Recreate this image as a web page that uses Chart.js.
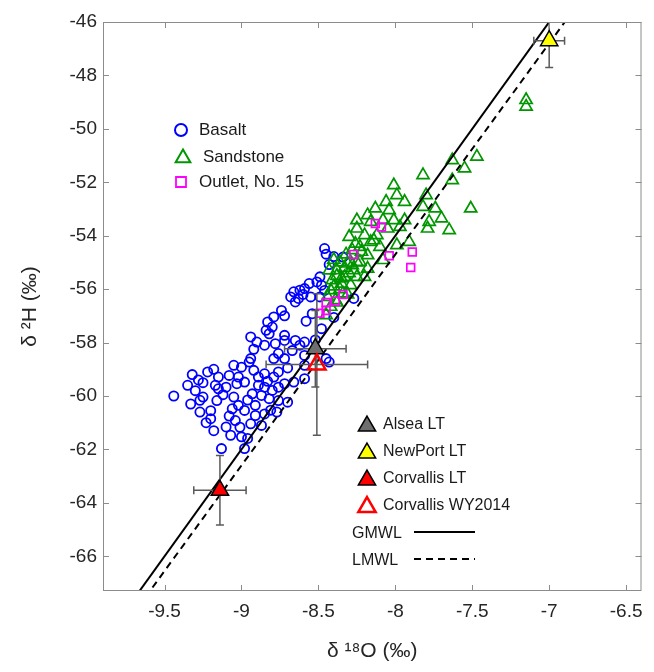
<!DOCTYPE html>
<html>
<head>
<meta charset="utf-8">
<script src="https://cdn.jsdelivr.net/npm/chart.js@4.4.1/dist/chart.umd.min.js"></script>
<style>
  body { margin: 0; background: #fff; }
  #wrap { width: 654px; height: 672px; }
</style>
</head>
<body>
<div id="wrap"><canvas id="myChart"></canvas></div>
<script>
/// Isotope plot: d18O vs d2H

const xTicks = [-9.5, -9, -8.5, -8, -7.5, -7, -6.5];
const yTicks = [-66, -64, -62, -60, -58, -56, -54, -52, -50, -48, -46];

const seriesNames = ["Basalt", "Sandstone", "Outlet, No. 15"];

const basaltX = [
  -8.46, -8.45, -8.40, -8.34, -8.43, -8.49, -8.51, -8.48, -8.46, -8.49,
  -8.56, -8.59, -8.62, -8.66, -8.68, -8.63, -8.60, -8.65, -8.55, -8.27,
  -8.54, -8.48, -8.40, -8.72, -8.79, -8.83, -8.80, -8.84, -8.82, -8.72,
  -8.72, -8.94, -8.90, -8.85, -8.78, -8.65, -8.62, -8.59, -8.76, -8.72,
  -8.79, -8.94, -8.95, -8.59, -8.59, -8.45, -8.43, -9.00, -9.02, -9.08,
  -9.15, -9.17, -9.15, -9.10, -9.03, -8.98, -8.92, -8.89, -8.85, -8.79,
  -8.76, -8.89, -8.85, -8.80, -8.76, -8.72, -8.66, -8.59, -8.93, -8.87,
  -8.82, -8.76, -8.70, -9.25, -9.16, -9.05, -9.02, -9.06, -8.98, -8.91,
  -8.91, -8.85, -8.77, -9.04, -8.94, -8.87, -9.01, -9.13, -8.98, -9.07,
  -9.00, -8.96, -9.10, -9.20, -9.27, -8.81, -9.44, -9.35, -9.32, -9.30,
  -9.28, -9.33, -9.27, -9.22, -9.25, -9.20, -9.18, -9.23, -9.12, -9.08,
  -8.96, -8.83, -8.70, -8.67, -8.92, -9.05, -9.18, -8.74, -8.58, -8.52,
];
const basaltY = [
  -54.48, -54.69, -54.78, -54.80, -55.08, -55.54, -55.73, -55.85, -56.05, -56.29,
  -55.79, -55.98, -56.04, -56.10, -56.29, -56.35, -56.20, -56.48, -56.29, -56.35,
  -56.92, -57.48, -57.06, -57.00, -57.04, -57.23, -57.42, -57.54, -57.67, -57.73,
  -57.92, -57.79, -57.98, -58.10, -58.04, -57.92, -58.10, -57.98, -58.41, -58.60,
  -58.60, -58.60, -58.73, -58.48, -58.85, -58.60, -58.73, -58.92, -59.29, -59.23,
  -59.29, -59.60, -59.73, -59.67, -59.54, -59.48, -59.04, -59.29, -59.17, -59.29,
  -59.10, -59.60, -59.67, -59.79, -59.67, -59.54, -59.48, -59.35, -59.92, -59.98,
  -60.10, -60.17, -60.23, -60.04, -60.17, -60.04, -60.35, -60.48, -60.54, -60.35,
  -60.73, -60.67, -60.60, -60.92, -61.04, -61.10, -61.17, -61.97, -61.97, -61.47,
  -61.53, -61.59, -61.16, -60.55, -60.16, -60.53, -60.00, -59.60, -59.20, -59.80,
  -59.40, -60.30, -60.60, -59.10, -59.50, -60.85, -61.30, -61.00, -59.95, -60.75,
  -60.15, -59.45, -58.95, -58.30, -58.25, -58.85, -59.00, -56.80, -57.20, -57.90,
];

const sandX = [
  -7.63, -7.47, -7.55, -7.63, -7.82, -8.01, -7.99, -8.06, -7.94, -7.80,
  -7.82, -7.74, -7.51, -7.70, -7.78, -7.79, -7.65, -8.13, -8.04, -8.18,
  -8.25, -8.16, -8.08, -8.01, -7.94, -7.97, -8.05, -8.25, -8.30, -8.20,
  -8.12, -7.91, -7.99, -8.10, -8.16, -8.23, -8.28, -8.18, -8.08, -8.23,
  -8.31, -8.38, -8.27, -8.18, -8.33, -8.25, -8.41, -8.35, -8.29, -8.42,
  -8.34, -8.44, -8.39, -8.42, -8.45, -8.20, -8.14, -8.40, -8.36, -8.33,
  -8.30, -8.38, -8.35, -8.28, -8.25, -8.40, -8.36, -8.31, -8.38, -8.43,
  -8.22, -8.26, -8.32, -7.15, -7.15,
];
const sandY = [
  -51.17, -51.04, -51.48, -51.92, -51.73, -52.11, -52.48, -52.73, -52.73, -52.48,
  -52.92, -52.98, -52.98, -53.35, -53.48, -53.73, -53.79, -52.98, -53.04, -53.23,
  -53.42, -53.48, -53.42, -53.42, -53.42, -53.67, -53.73, -53.73, -54.04, -53.98,
  -53.98, -54.23, -54.35, -54.42, -54.23, -54.42, -54.54, -54.73, -54.91, -54.98,
  -55.04, -55.29, -55.29, -55.23, -55.54, -55.54, -55.66, -55.79, -55.85, -56.04,
  -56.16, -56.29, -56.41, -56.66, -56.97, -55.54, -54.17, -54.90, -55.00, -55.20,
  -55.40, -55.50, -55.60, -55.10, -55.00, -55.90, -56.00, -56.20, -56.50, -55.30,
  -54.60, -54.30, -54.70, -48.92, -49.17,
];

const outletX = [-8.13, -8.09, -8.27, -8.04, -7.89, -7.90, -8.34, -8.39, -8.45, -8.45, -8.49];
const outletY = [-53.54, -53.67, -54.70, -54.75, -54.61, -55.19, -56.20, -56.45, -56.50, -56.80, -56.90];

// long-term precipitation sites, with error bars
const siteNames = ["Alsea LT", "NewPort LT", "Corvallis LT", "Corvallis WY2014"];
const siteX = [-8.52, -7.0, -9.14, -8.51];
const siteY = [-58.23, -46.7, -63.53, -58.82];
const siteXErr = [0.2, 0.1, 0.17, 0.33];
const siteYErr = [1.43, 1.0, 1.3, 2.65];

// meteoric water lines
const lineNames = ["GMWL", "LMWL"];
const lineX = [-9.9, -6.4];
const gmwlSlope = 8, gmwlIntercept = 10;
const lmwlSlope = 7.9, lmwlIntercept = 8.5;

const FONT = "'Liberation Sans', Arial, Helvetica, sans-serif";
const TEXT = "#262626";
const AXIS = "#8c8c8c";
const ERR = "#5a5a5a";
const BLUE = "#0000ff";
const GREEN = "#009600";
const MAGENTA = "#ff00ff";
const siteFill = ["#6e6e6e", "#ffff00", "#ff0000", "rgba(0,0,0,0)"];
const siteBorder = ["#000000", "#000000", "#000000", "#ff0000"];

const pts = (xs, ys) => xs.map((x, i) => ({ x: x, y: ys[i] }));

let datasets = [
  {
    label: seriesNames[0],
    data: pts(basaltX, basaltY),
    pointStyle: "circle",
    pointRadius: 4.6,
    pointBorderWidth: 1.8,
    pointBorderColor: BLUE,
    pointBackgroundColor: "rgba(0,0,0,0)",
    order: 6,
  },
  {
    label: seriesNames[1],
    data: pts(sandX, sandY),
    pointStyle: "triangle",
    pointRadius: 7,
    pointBorderWidth: 1.7,
    pointBorderColor: GREEN,
    pointBackgroundColor: "rgba(0,0,0,0)",
    order: 5,
  },
  {
    label: seriesNames[2],
    data: pts(outletX, outletY),
    pointStyle: "rect",
    pointRadius: 5.5,
    pointBorderWidth: 1.7,
    pointBorderColor: MAGENTA,
    pointBackgroundColor: "rgba(0,0,0,0)",
    order: 4,
  },
  {
    label: lineNames[0],
    data: lineX.map((x) => ({ x: x, y: gmwlSlope * x + gmwlIntercept })),
    showLine: true,
    borderColor: "#000",
    borderWidth: 2,
    pointRadius: 0,
    order: 3,
  },
  {
    label: lineNames[1],
    data: lineX.map((x) => ({ x: x, y: lmwlSlope * x + lmwlIntercept })),
    showLine: true,
    borderColor: "#000",
    borderWidth: 2,
    borderDash: [7, 5],
    pointRadius: 0,
    order: 3,
  },
];

// error bars: one dataset per bar, caps drawn as 'line' points
siteX.forEach((sx, i) => {
  datasets.push({
    data: [
      { x: sx - siteXErr[i], y: siteY[i] },
      { x: sx + siteXErr[i], y: siteY[i] },
    ],
    showLine: true,
    borderColor: ERR,
    borderWidth: 1.5,
    pointStyle: "line",
    pointRotation: 90,
    pointRadius: 4,
    pointBorderColor: ERR,
    pointBorderWidth: 1.5,
    order: 2,
  });
  datasets.push({
    data: [
      { x: sx, y: siteY[i] - siteYErr[i] },
      { x: sx, y: siteY[i] + siteYErr[i] },
    ],
    showLine: true,
    borderColor: ERR,
    borderWidth: 1.5,
    pointStyle: "line",
    pointRotation: 0,
    pointRadius: 4,
    pointBorderColor: ERR,
    pointBorderWidth: 1.5,
    order: 2,
  });
});

datasets.push({
  label: "sites",
  data: pts(siteX, siteY),
  pointStyle: "triangle",
  pointRadius: 10,
  pointBorderWidth: [1.5, 1.5, 1.5, 2.5],
  pointBorderColor: siteBorder,
  pointBackgroundColor: siteFill,
  order: 1,
});

function mark(ctx, style, x, y, r, fill, stroke, lw) {
  ctx.save();
  ctx.beginPath();
  if (style === "circle") {
    ctx.arc(x, y, r, 0, Math.PI * 2);
  } else if (style === "triangle") {
    ctx.moveTo(x, y - r);
    ctx.lineTo(x + (r * Math.sqrt(3)) / 2, y + r / 2);
    ctx.lineTo(x - (r * Math.sqrt(3)) / 2, y + r / 2);
    ctx.closePath();
  } else {
    ctx.rect(x - r, y - r, 2 * r, 2 * r);
  }
  if (fill) {
    ctx.fillStyle = fill;
    ctx.fill();
  }
  ctx.lineWidth = lw;
  ctx.strokeStyle = stroke;
  ctx.stroke();
  ctx.restore();
}

// box, inward ticks and the two legends
const frame = {
  id: "frame",
  afterDatasetsDraw(chart) {
    const ctx = chart.ctx;
    const a = chart.chartArea;
    const x = chart.scales.x;
    const y = chart.scales.y;
    ctx.save();
    ctx.strokeStyle = AXIS;
    ctx.lineWidth = 1;
    ctx.strokeRect(a.left + 0.5, a.top + 0.5, a.right - a.left - 1, a.bottom - a.top - 1);
    ctx.beginPath();
    xTicks.forEach((v) => {
      const px = Math.round(x.getPixelForValue(v)) + 0.5;
      ctx.moveTo(px, a.bottom);
      ctx.lineTo(px, a.bottom - 6);
      ctx.moveTo(px, a.top);
      ctx.lineTo(px, a.top + 6);
    });
    yTicks.forEach((v) => {
      const py = Math.round(y.getPixelForValue(v)) + 0.5;
      ctx.moveTo(a.left, py);
      ctx.lineTo(a.left + 6, py);
      ctx.moveTo(a.right, py);
      ctx.lineTo(a.right - 6, py);
    });
    ctx.stroke();

    ctx.fillStyle = "#1a1a1a";
    ctx.textBaseline = "middle";
    ctx.textAlign = "left";

    // legend 1
    ctx.font = "17px " + FONT;
    mark(ctx, "circle", 181, 130, 6, null, BLUE, 2);
    ctx.fillText(seriesNames[0], 199, 130);
    mark(ctx, "triangle", 183, 158, 8.5, null, GREEN, 2);
    ctx.fillText(seriesNames[1], 203, 157);
    mark(ctx, "rect", 181, 182, 5, null, MAGENTA, 1.8);
    ctx.fillStyle = "#1a1a1a";
    ctx.fillText(seriesNames[2], 199, 182);

    // legend 2
    ctx.font = "16px " + FONT;
    const ly = [425, 452, 479, 506];
    siteNames.forEach((name, i) => {
      mark(ctx, "triangle", 367, ly[i] + 1, 10, siteFill[i], siteBorder[i], i === 3 ? 2.5 : 1.5);
      ctx.fillStyle = "#1a1a1a";
      ctx.fillText(name, 383, ly[i]);
    });
    ctx.fillText(lineNames[0], 352, 534);
    ctx.fillText(lineNames[1], 352, 561);
    ctx.strokeStyle = "#000";
    ctx.lineWidth = 2;
    ctx.beginPath();
    ctx.moveTo(414, 532);
    ctx.lineTo(475, 532);
    ctx.stroke();
    ctx.setLineDash([7, 5]);
    ctx.beginPath();
    ctx.moveTo(414, 559);
    ctx.lineTo(475, 559);
    ctx.stroke();
    ctx.restore();
  },
};

const config = {
  type: "scatter",
  data: { datasets: datasets },
  options: {
    responsive: true,
    maintainAspectRatio: false,
    animation: false,
    events: [],
    layout: { padding: { top: 22, right: 8, left: 0, bottom: 0 } },
    plugins: { legend: { display: false }, tooltip: { enabled: false } },
    scales: {
      x: {
        type: "linear",
        min: -9.9,
        max: -6.4,
        afterBuildTicks: (s) => {
          s.ticks = xTicks.map((v) => ({ value: v }));
        },
        afterFit: (s) => {
          s.height = 81;
        },
        grid: { display: false, drawTicks: false },
        border: { display: false },
        ticks: {
          autoSkip: false,
          maxRotation: 0,
          padding: 9,
          color: TEXT,
          font: { family: FONT, size: 19 },
          callback: (v) => String(v),
        },
        title: {
          display: true,
          text: "δ ¹⁸O (‰)",
          color: TEXT,
          font: { family: FONT, size: 21 },
          padding: { top: 0, bottom: 8 },
        },
      },
      y: {
        type: "linear",
        min: -67.3,
        max: -46,
        afterBuildTicks: (s) => {
          s.ticks = yTicks.map((v) => ({ value: v }));
        },
        afterFit: (s) => {
          s.width = 103;
        },
        grid: { display: false, drawTicks: false },
        border: { display: false },
        ticks: {
          autoSkip: false,
          padding: 6,
          color: TEXT,
          font: { family: FONT, size: 19 },
          callback: (v) => String(v),
        },
        title: {
          display: true,
          text: "δ ²H (‰)",
          color: TEXT,
          font: { family: FONT, size: 21 },
          padding: { top: 18, bottom: 0 },
        },
      },
    },
  },
  plugins: [frame],
};

var myChart = new Chart(document.getElementById("myChart"), config);
</script>
</body>
</html>
